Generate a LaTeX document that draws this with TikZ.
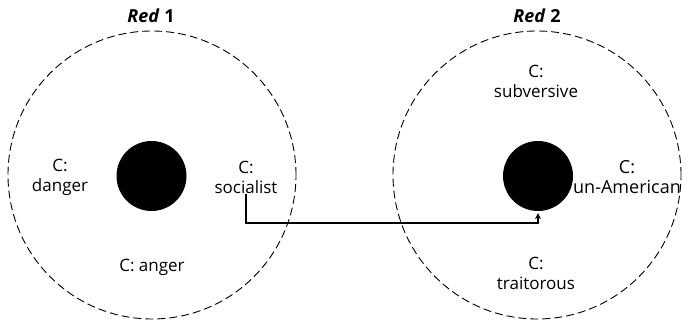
\documentclass[tikz,border=0pt]{standalone}
\usepackage{fontspec}
\setmainfont{Open Sans}
\usetikzlibrary{arrows.meta}
\begin{document}
\begin{tikzpicture}[x=1pt,y=1pt,
  field/.style={draw,dashed,dash pattern=on 8pt off 4pt,line width=0.9pt,circle,minimum size=288pt,inner sep=0pt},
  core/.style={fill=black,circle,inner sep=0pt,minimum size=70pt},
  lab/.style={align=center,font=\fontsize{17}{20}\selectfont,inner sep=1pt},
  ttl/.style={font=\fontsize{18}{18}\selectfont\bfseries},
  conn/.style={line width=1.8pt,-{Stealth[length=6pt,width=6pt]}}]
\useasboundingbox (0,0) rectangle (688,323);
% left field
\node[field] (f1) at (152,148) {};
\node[core] (c1) at (151.5,147) {};
\node[ttl] (t1) at (151,307) {\itshape Red\/ \upshape 1};
\node[lab] (danger) at (60,146) {C:\\danger};
\node[lab] (social) at (246,146) {C:\\socialist};
\node[lab] (anger) at (152,56) {C: anger};
% right field
\node[field] (f2) at (537,148) {};
\node[core] (c2) at (538,147) {};
\node[ttl] (t2) at (537,307) {\itshape Red\/ \upshape 2};
\node[lab] (subv) at (536,242) {C:\\subversive};
\node[lab,font=\fontsize{18}{20}\selectfont] (unam) at (627,146) {C:\\un-American};
\node[lab] (trait) at (536,50) {C:\\traitorous};
% connector
\coordinate (bend) at (538,100);
\draw[conn,shorten >=2pt] (social.south) |- (bend) -- (c2.south);
\end{tikzpicture}
\end{document}
